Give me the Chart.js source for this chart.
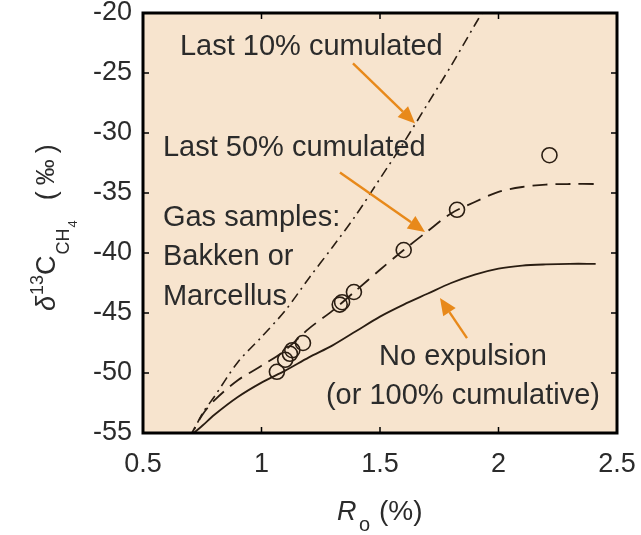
<!DOCTYPE html>
<html><head><meta charset="utf-8">
<script src="https://cdn.jsdelivr.net/npm/chart.js@4/dist/chart.umd.min.js"></script>
<style>html,body{margin:0;padding:0;background:#fff;}</style>
</head><body>
<canvas id="c" width="641" height="535" style="display:block;width:641px;height:535px"></canvas>
<script>
// ---- data ----
const roCurve = [0.69, 0.75, 0.80, 0.90, 1.00, 1.10, 1.20, 1.30, 1.40, 1.50, 1.60, 1.70, 1.80, 1.90, 2.00, 2.10, 2.20, 2.30, 2.41];
const d13NoExpulsion = [-55.4, -54.4, -53.5, -52.0, -50.8, -49.8, -48.7, -47.7, -46.5, -45.3, -44.3, -43.4, -42.5, -41.8, -41.3, -41.05, -40.95, -40.9, -40.9];
const d13Last50 = [-55.6, -53.5, -52.3, -50.6, -49.4, -48.1, -46.3, -44.8, -43.1, -41.4, -39.75, -38.2, -36.7, -35.75, -34.9, -34.5, -34.3, -34.25, -34.25];
const roLast10 = [0.69, 0.75, 0.80, 0.90, 1.00, 1.10, 1.20, 1.30, 1.40, 1.50, 1.60, 1.70, 1.80, 1.90, 1.93];
const d13Last10 = [-55.8, -53.4, -52.0, -49.1, -47.0, -44.8, -42.1, -39.5, -36.8, -33.8, -30.8, -27.6, -24.4, -21.0, -20.0];
const roSamples = [1.065, 1.10, 1.12, 1.13, 1.175, 1.33, 1.34, 1.39, 1.60, 1.825, 2.215];
const d13Samples = [-49.9, -48.9, -48.4, -48.1, -47.5, -44.3, -44.1, -43.25, -39.75, -36.4, -31.85];
const xTicks = [0.5, 1, 1.5, 2, 2.5];
const yTicks = [-55, -50, -45, -40, -35, -30, -25, -20];
const labels = {
  last10: 'Last 10% cumulated',
  last50: 'Last 50% cumulated',
  gas: ['Gas samples:', 'Bakken or', 'Marcellus'],
  noExp: ['No expulsion', '(or 100% cumulative)']
};
// arrows: [fromRo, fromD13, toRo, toD13]
const arrows = [
  [1.386, -24.2, 1.648, -29.2],
  [1.331, -33.3, 1.69, -38.25],
  [1.867, -47.1, 1.753, -43.75]
];

const FONT = '"Liberation Sans", Arial, Helvetica, sans-serif';
const TXT = '#2b2b2b';
const INK = '#2a1d12';
const ORANGE = '#e8891a';
const BG = '#f7e4ce';

const pts = (xs, ys) => xs.map((x, i) => ({x, y: ys[i]}));

const framePlugin = {
  id: 'frame',
  beforeDatasetsDraw(chart) {
    const {ctx, chartArea: a} = chart;
    ctx.save();
    ctx.fillStyle = BG;
    ctx.fillRect(a.left, a.top, a.right - a.left, a.bottom - a.top);
    ctx.restore();
  },
  afterDatasetsDraw(chart) {
    const {ctx, chartArea: a, scales} = chart;
    const X = v => scales.x.getPixelForValue(v);
    const Y = v => scales.y.getPixelForValue(v);
    ctx.save();
    // arrows
    ctx.strokeStyle = ORANGE; ctx.fillStyle = ORANGE; ctx.lineWidth = 2.4;
    arrows.forEach(([x0, y0, x1, y1]) => {
      const px0 = X(x0), py0 = Y(y0), px1 = X(x1), py1 = Y(y1);
      const ang = Math.atan2(py1 - py0, px1 - px0);
      const hl = 17, hw = 7.5;
      const bx = px1 - hl * Math.cos(ang), by = py1 - hl * Math.sin(ang);
      ctx.beginPath(); ctx.moveTo(px0, py0); ctx.lineTo(bx, by); ctx.stroke();
      ctx.beginPath();
      ctx.moveTo(px1, py1);
      ctx.lineTo(bx + hw * Math.sin(ang), by - hw * Math.cos(ang));
      ctx.lineTo(bx - hw * Math.sin(ang), by + hw * Math.cos(ang));
      ctx.closePath(); ctx.fill();
    });
    // annotation texts
    ctx.fillStyle = TXT;
    ctx.font = '29px ' + FONT;
    ctx.textBaseline = 'middle';
    ctx.textAlign = 'left';
    ctx.fillText(labels.last10, X(0.656), Y(-22.83));
    ctx.fillText(labels.last50, X(0.584), Y(-31.25));
    labels.gas.forEach((t, i) => ctx.fillText(t, X(0.584), Y(-37.08) + i * 39.5));
    ctx.textAlign = 'center';
    ctx.fillText(labels.noExp[0], X(1.85), Y(-48.67));
    ctx.fillText(labels.noExp[1], X(1.85), Y(-51.92));
    // inner tick marks
    ctx.strokeStyle = '#000'; ctx.lineWidth = 1.5;
    const tl = 6;
    xTicks.forEach(v => {
      const px = X(v);
      ctx.beginPath();
      ctx.moveTo(px, a.bottom); ctx.lineTo(px, a.bottom - tl);
      ctx.moveTo(px, a.top); ctx.lineTo(px, a.top + tl);
      ctx.stroke();
    });
    yTicks.forEach(v => {
      const py = Y(v);
      ctx.beginPath();
      ctx.moveTo(a.left, py); ctx.lineTo(a.left + tl, py);
      ctx.moveTo(a.right, py); ctx.lineTo(a.right - tl, py);
      ctx.stroke();
    });
    // box
    ctx.lineWidth = 3;
    ctx.strokeRect(a.left, a.top, a.right - a.left, a.bottom - a.top);
    // x title: R_o (%)
    ctx.fillStyle = TXT;
    ctx.textAlign = 'left';
    ctx.textBaseline = 'alphabetic';
    const cx = (a.left + a.right) / 2;
    ctx.font = 'italic 27px ' + FONT;
    ctx.fillText('R', cx - 43, 520);
    ctx.font = '20px ' + FONT;
    ctx.fillText('o', cx - 21, 531);
    ctx.font = '28px ' + FONT;
    ctx.fillText('(%)', cx - 1, 520);
    // y title: δ13C CH4 (‰)
    ctx.translate(55, 311);
    ctx.rotate(-Math.PI / 2);
    let u = 0;
    const piece = (t, font, v, gap) => {
      ctx.font = font;
      ctx.fillText(t, u, v);
      u += ctx.measureText(t).width + (gap || 0);
    };
    piece('δ', 'italic 27px ' + FONT, 0, 1);
    piece('13', '18px ' + FONT, -12, 0);
    piece('C', '27px ' + FONT, 0, 1);
    piece('CH', '18px ' + FONT, 14, 1);
    piece('4', '13px ' + FONT, 22, 20);
    piece('(', '27px ' + FONT, 0, 6);
    piece('‰', '26px ' + FONT, -1, 6);
    piece(')', '27px ' + FONT, 0, 0);
    ctx.restore();
  }
};

const lineDs = (data, dash, w) => ({
  type: 'line', data, borderColor: INK, borderWidth: w, borderDash: dash,
  pointRadius: 0, fill: false, tension: 0.3, clip: 0, showLine: true
});

const noPad = s => { s.paddingTop = 0; s.paddingBottom = 0; s.paddingLeft = 0; s.paddingRight = 0; };

new Chart(document.getElementById('c'), {
  type: 'scatter',
  data: {
    datasets: [
      lineDs(pts(roCurve, d13NoExpulsion), [], 1.8),
      lineDs(pts(roCurve, d13Last50), [15, 8], 1.8),
      lineDs(pts(roLast10, d13Last10), [10, 5, 2, 5], 1.6),
      {
        type: 'scatter', data: pts(roSamples, d13Samples),
        pointStyle: 'circle', pointRadius: 7.5, pointBorderWidth: 1.6,
        borderColor: INK, backgroundColor: 'rgba(0,0,0,0)', borderWidth: 1.6, clip: false
      }
    ]
  },
  options: {
    responsive: false, animation: false, devicePixelRatio: 1,
    layout: {padding: {top: 13, right: 24, left: 0, bottom: 0}},
    plugins: {legend: {display: false}, tooltip: {enabled: false}},
    scales: {
      x: {
        type: 'linear', min: 0.5, max: 2.5,
        afterBuildTicks: s => { s.ticks = xTicks.map(v => ({value: v})); },
        ticks: {font: {size: 27, family: FONT}, color: TXT, padding: 15, maxRotation: 0,
                callback: v => String(v)},
        grid: {display: false, drawTicks: false}, border: {display: false},
        afterFit: s => { s.height = 102; noPad(s); }
      },
      y: {
        type: 'linear', min: -55, max: -20,
        afterBuildTicks: s => { s.ticks = yTicks.map(v => ({value: v})); },
        ticks: {font: {size: 27, family: FONT}, color: TXT, padding: 11,
                callback: v => String(v)},
        grid: {display: false, drawTicks: false}, border: {display: false},
        afterFit: s => { s.width = 143; noPad(s); }
      }
    }
  },
  plugins: [framePlugin]
});
</script>
</body></html>
